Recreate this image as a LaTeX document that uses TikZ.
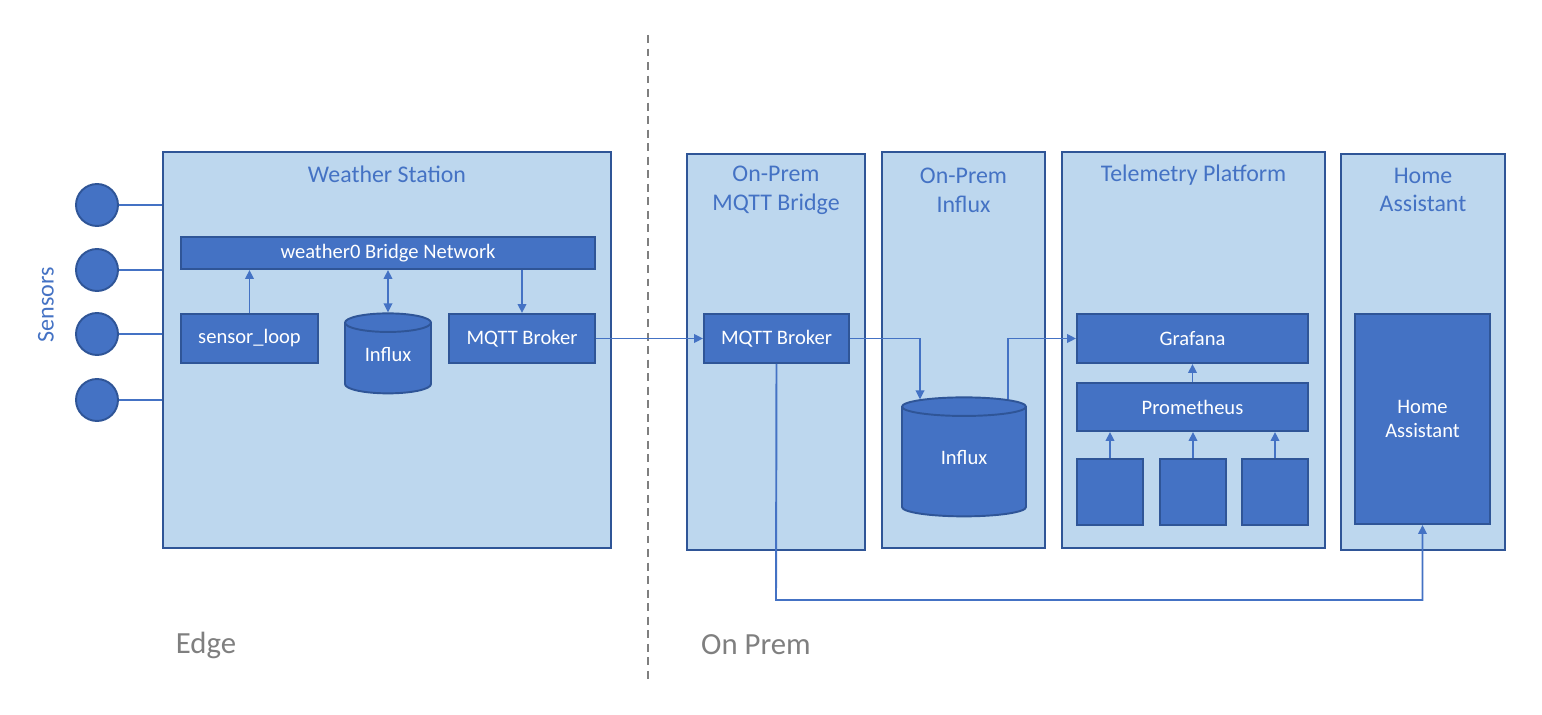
\documentclass[tikz,border=0pt]{standalone}
\usepackage{fontspec}
\setmainfont{Carlito}
\usetikzlibrary{shapes.geometric,arrows.meta}

\definecolor{zonefill}{HTML}{BDD7EE}
\definecolor{rimblue}{HTML}{2F5597}
\definecolor{partblue}{HTML}{4472C4}
\definecolor{notegray}{HTML}{7F7F7F}

\tikzset{
  zone/.style={draw=rimblue, fill=zonefill, line width=1.1pt, inner sep=0pt, minimum height=7.92cm},
  part/.style={draw=rimblue, fill=partblue, line width=1.1pt, inner sep=0pt, text=white,
               font=\fontsize{11.7}{14.2}\selectfont, align=center},
  db/.style={part, cylinder, shape border rotate=90, aspect=0.4},
  zonetitle/.style={text=partblue, font=\fontsize{13.6}{16.4}\selectfont, align=center},
  tip/.style={-{Triangle[length=1.8mm,width=1.7mm]}},
  bothtips/.style={{Triangle[length=1.8mm,width=1.7mm]}-{Triangle[length=1.8mm,width=1.7mm]}},
  link/.style={draw=partblue, line width=1.1pt, tip},
  sidenote/.style={text=notegray, font=\fontsize{17.5}{20}\selectfont},
}

\begin{document}
\begin{tikzpicture}[x=0.02cm, y=-0.02cm]
  \useasboundingbox (0,0) rectangle (1542,715);

  % divider
  \draw [notegray, line width=1.2pt, dash pattern=on 4.5pt off 3.2pt] (648,35) -- (648,680);
  \node [sidenote] (edge) at (206,645) {Edge};
  \node [sidenote] (prem) at (756,645) {On Prem};

  % zones
  \node [zone, minimum width=8.96cm] (ws) at (387,350) {};
  \node [zone, minimum width=3.56cm] (mb) at (776,352) {};
  \node [zone, minimum width=3.26cm] (oi) at (963.5,350) {};
  \node [zone, minimum width=5.26cm] (tp) at (1193.5,350) {};
  \node [zone, minimum width=3.28cm] (ha) at (1423,352) {};

  \node [zonetitle] (wst) at (387,174) {Weather Station};
  \node [zonetitle] (mbt) at (776,190) {On-Prem\\MQTT Bridge};
  \node [zonetitle] (oit) at (963.5,190) {On-Prem\\Influx};
  \node [zonetitle] (tpt) at (1193.5,175) {Telemetry Platform};
  \node [zonetitle] (hat) at (1423,190) {Home\\Assistant};

  % sensors
  \foreach \i/\y in {1/205, 2/270, 3/334, 4/400} {
    \node [circle, draw=rimblue, fill=partblue, line width=1.1pt, minimum size=0.84cm, inner sep=0pt] (s\i) at (97,\y) {};
    \draw [partblue, line width=1.1pt] (s\i) -- (s\i -| ws.west);
  }
  \node [text=partblue, font=\fontsize{13.7}{16}\selectfont, rotate=90] (sens) at (46,305) {Sensors};

  % edge parts
  \node [part, minimum width=8.28cm, minimum height=0.64cm] (net) at (388,253) {weather0 Bridge Network};
  \node [part, minimum width=2.74cm, minimum height=0.98cm] (loop) at (249.5,338.5) {sensor\_loop};
  \node [db, minimum width=1.72cm, minimum height=1.6cm] (inf1) at (388,358.5) {\raisebox{4.6pt}{Influx}};
  \node [part, minimum width=2.92cm, minimum height=0.98cm] (brk1) at (522,338.5) {MQTT Broker};

  % on prem parts
  \node [part, minimum width=2.9cm, minimum height=0.98cm] (brk2) at (776.5,338.5) {MQTT Broker};
  \node [db, minimum width=2.48cm, minimum height=2.38cm] (inf2) at (964,462) {\raisebox{5.6pt}{Influx}};
  \node [part, minimum width=4.62cm, minimum height=0.98cm] (graf) at (1192.5,338.5) {Grafana};
  \node [part, minimum width=4.62cm, minimum height=0.96cm] (prom) at (1192.5,407) {Prometheus};
  \foreach \i/\x in {1/1110, 2/1193, 3/1275}
    \node [part, minimum size=1.32cm] (exp\i) at (\x,492) {};
  \node [part, minimum width=2.7cm, minimum height=4.2cm] (hain) at (1422.5,419) {Home\\Assistant};
  \coordinate (ret) at (776,600);

  % links
  \draw [link] (loop.north) -- (loop.north |- net.south);
  \draw [link, bothtips] (inf1.north) -- (inf1.north |- net.south);
  \draw [link] (brk1.north |- net.south) -- (brk1.north);
  \draw [link] (brk1.east) -- (brk2.west);
  \draw [link] (brk2.east) -| ([xshift=-0.88cm, yshift=-0.06cm]inf2.north);
  \draw [link] ([xshift=0.88cm, yshift=-0.06cm]inf2.north) |- (graf.west);
  \draw [link] (prom.north) -- (graf.south);
  \foreach \i in {1,2,3}
    \draw [link] (exp\i.north) -- (exp\i.north |- prom.south);
  \draw [link] (brk2.south) -- (ret) -| (hain.south);
\end{tikzpicture}
\end{document}
